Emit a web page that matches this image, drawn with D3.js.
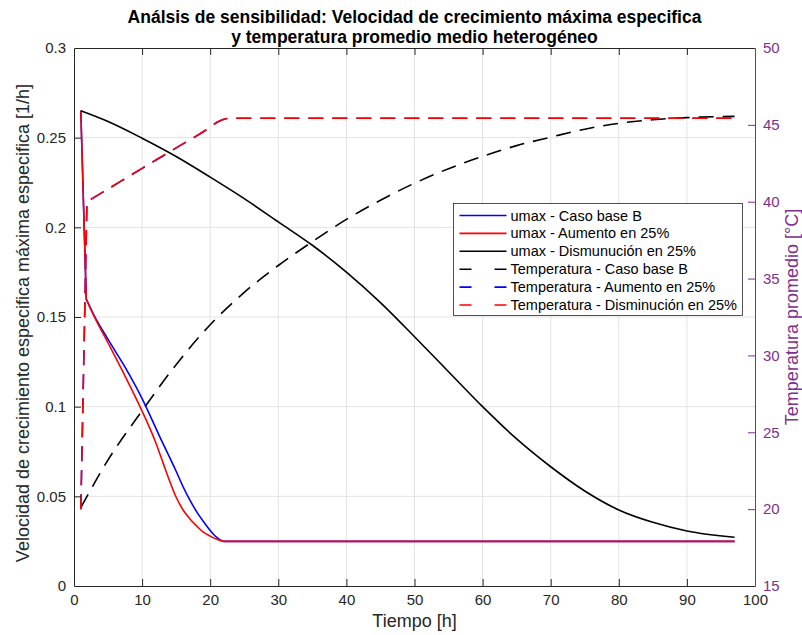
<!DOCTYPE html>
<html>
<head>
<meta charset="utf-8">
<script src="https://cdn.jsdelivr.net/npm/d3@7"></script>
<style>
  html, body { margin: 0; padding: 0; background: #ffffff; }
  svg { display: block; font-family: "Liberation Sans", Arial, Helvetica, sans-serif; }
</style>
</head>
<body>
<svg id="chart" width="802" height="635"></svg>
<script>
// ---- data ----
const titleLines = [
  "Análsis de sensibilidad: Velocidad de crecimiento máxima especifica",
  "y temperatura promedio medio heterogéneo"
];

// umax - Caso base B (left axis)
const tBase = [1, 1.8, 3, 5, 7.5, 10, 12.5, 15, 16, 17, 18, 19, 20, 21, 22, 30, 97];
const umaxBase = [0.265, 0.160, 0.1505, 0.1375, 0.122, 0.1045, 0.084, 0.064, 0.0555, 0.048, 0.0415, 0.036, 0.031, 0.027, 0.0249, 0.0249, 0.0249];

// umax - Aumento en 25% (left axis)
const tAumento = [1, 1.8, 3, 5, 7.5, 10, 12, 13, 14, 15, 16, 17, 18, 19, 20, 21, 22, 30, 97];
const umaxAumento = [0.265, 0.160, 0.150, 0.1355, 0.117, 0.0975, 0.080, 0.0695, 0.059, 0.0495, 0.0425, 0.0375, 0.0335, 0.030, 0.0278, 0.026, 0.0249, 0.0249, 0.0249];

// umax - Disminución en 25% (left axis)
const tDism = [1, 5, 10, 15, 20, 25, 30, 35, 40, 45, 50, 55, 60, 65, 70, 75, 80, 85, 90, 97];
const umaxDism = [0.265, 0.259, 0.2497, 0.2395, 0.228, 0.216, 0.203, 0.190, 0.175, 0.158, 0.139, 0.1195, 0.100, 0.082, 0.0665, 0.053, 0.0424, 0.0355, 0.0307, 0.0272];

// Temperatura - Caso base B (right axis)
const tempBase = [20.1, 23.2, 26.4, 29.4, 32.0, 34.1, 35.85, 37.4, 38.85, 40.1, 41.2, 42.15, 42.95, 43.65, 44.2, 44.72, 45.1, 45.33, 45.47, 45.55];

// Temperatura - Aumento / Disminución en 25% (right axis)
const tTemp = [1, 1.9, 5, 10, 15, 20, 21, 22, 23, 30, 97];
const tempAumento = [20, 40, 40.83, 42.17, 43.5, 44.85, 45.17, 45.37, 45.43, 45.43, 45.43];
const tempDism = [20, 40, 40.83, 42.17, 43.5, 44.85, 45.17, 45.37, 45.43, 45.43, 45.43];

const xTicks = [0, 10, 20, 30, 40, 50, 60, 70, 80, 90, 100];
const leftTicks = [0, 0.05, 0.1, 0.15, 0.2, 0.25, 0.3];
const leftTickLabels = ["0", "0.05", "0.1", "0.15", "0.2", "0.25", "0.3"];
const rightTicks = [15, 20, 25, 30, 35, 40, 45, 50];

const legendLabels = [
  "umax - Caso base B",
  "umax - Aumento en 25%",
  "umax - Dismunución en 25%",
  "Temperatura - Caso base B",
  "Temperatura - Aumento en 25%",
  "Temperatura - Disminución en 25%"
];

// ---- layout ----
const L = 74, R = 755, T = 48, B = 586;
const purple = "#7E2F8E";
const axisColor = "#262626";
const blue = "#0000ff", red = "#ff0000", black = "#000000";
const dash = "15,9";

const svg = d3.select("#chart");
const x = d3.scaleLinear().domain([0, 100]).range([L, R]);
const yL = d3.scaleLinear().domain([0, 0.3]).range([B, T]);
const yR = d3.scaleLinear().domain([15, 50]).range([B, T]);

// grid
const grid = svg.append("g").attr("stroke", "#e3e3e3").attr("stroke-width", 1);
grid.selectAll("line.gx").data(xTicks.slice(1, -1)).join("line")
  .attr("x1", d => x(d)).attr("x2", d => x(d)).attr("y1", T).attr("y2", B);
grid.selectAll("line.gy").data(leftTicks.slice(1, -1)).join("line")
  .attr("x1", L).attr("x2", R).attr("y1", d => yL(d)).attr("y2", d => yL(d));

// series: straight segments up to index `kink`, smooth monotone curve after it
const zip = (xs, ys) => xs.map((t, i) => [t, ys[i]]);
function seriesPath(pts, yScale, kink) {
  const lin = d3.line().x(d => x(d[0])).y(d => yScale(d[1]));
  const smooth = d3.line().x(d => x(d[0])).y(d => yScale(d[1])).curve(d3.curveMonotoneX);
  if (!kink) return smooth(pts);
  const head = lin(pts.slice(0, kink + 1));
  const tail = smooth(pts.slice(kink)).replace(/^M[^A-Za-z]*/, "");
  return head + tail;
}

const series = [
  { pts: zip(tBase, umaxBase), y: yL, kink: 1, color: blue, dash: null },
  { pts: zip(tAumento, umaxAumento), y: yL, kink: 1, color: red, dash: null },
  { pts: zip(tDism, umaxDism), y: yL, kink: 0, color: black, dash: null },
  { pts: zip(tDism, tempBase), y: yR, kink: 0, color: black, dash: dash },
  { pts: zip(tTemp, tempAumento), y: yR, kink: 1, color: blue, dash: dash },
  { pts: zip(tTemp, tempDism), y: yR, kink: 1, color: red, dash: dash }
];

const plot = svg.append("g");
series.forEach(s => {
  plot.append("path")
    .attr("d", seriesPath(s.pts, s.y, s.kink))
    .attr("fill", "none")
    .attr("stroke", s.color)
    .attr("stroke-width", 1.6)
    .attr("stroke-linejoin", "round")
    .attr("stroke-dasharray", s.dash);
});

// axes
const fontSize = 15;
const gx = svg.append("g").attr("transform", `translate(0,${B})`)
  .call(d3.axisBottom(x).tickValues(xTicks).tickSizeInner(-7).tickSizeOuter(0).tickPadding(8));
const gxTop = svg.append("g").attr("transform", `translate(0,${T})`)
  .call(d3.axisTop(x).tickValues(xTicks).tickSizeInner(-7).tickSizeOuter(0).tickFormat(""));
const gyL = svg.append("g").attr("transform", `translate(${L},0)`)
  .call(d3.axisLeft(yL).tickValues(leftTicks).tickSizeInner(-7).tickSizeOuter(0).tickPadding(8)
    .tickFormat((d, i) => leftTickLabels[i]));
const gyR = svg.append("g").attr("transform", `translate(${R},0)`)
  .call(d3.axisRight(yR).tickValues(rightTicks).tickSizeInner(-7).tickSizeOuter(0).tickPadding(8));

[gx, gxTop, gyL].forEach(g => {
  g.select(".domain").attr("stroke", axisColor).attr("stroke-width", 1);
  g.selectAll(".tick line").attr("stroke", axisColor);
  g.selectAll("text").attr("fill", axisColor).attr("font-size", fontSize)
    .attr("font-family", "Liberation Sans, Arial, sans-serif");
});
gyR.select(".domain").attr("stroke", purple).attr("stroke-width", 1);
gyR.selectAll(".tick line").attr("stroke", purple);
gyR.selectAll("text").attr("fill", purple).attr("font-size", fontSize)
  .attr("font-family", "Liberation Sans, Arial, sans-serif");
// the box edges already mark the end ticks
gx.selectAll(".tick").filter(d => d === 0 || d === 100).select("line").remove();
gxTop.selectAll(".tick").filter(d => d === 0 || d === 100).select("line").remove();
gyL.selectAll(".tick").filter(d => d === 0 || d === 0.3).select("line").remove();
gyR.selectAll(".tick").filter(d => d === 15 || d === 50).select("line").remove();

// axis titles
const labelSize = 18;
svg.append("text")
  .attr("x", (L + R) / 2).attr("y", 627)
  .attr("text-anchor", "middle").attr("font-size", labelSize).attr("fill", axisColor)
  .text("Tiempo [h]");
svg.append("text")
  .attr("transform", `translate(29,${(T + B) / 2 + 6}) rotate(-90)`)
  .attr("text-anchor", "middle").attr("font-size", labelSize).attr("fill", axisColor)
  .text("Velocidad de crecimiento especifica máxima especifica [1/h]");
svg.append("text")
  .attr("transform", `translate(798,${(T + B) / 2}) rotate(-90)`)
  .attr("text-anchor", "middle").attr("font-size", labelSize).attr("fill", purple)
  .text("Temperatura promedio [°C]");

// title
titleLines.forEach((s, i) => {
  svg.append("text")
    .attr("x", (L + R) / 2).attr("y", 23 + i * 20)
    .attr("text-anchor", "middle").attr("font-size", 17.5).attr("font-weight", "bold")
    .attr("fill", "#000").text(s);
});

// legend
const lg = svg.append("g").attr("transform", "translate(453.5,203.5)");
lg.append("rect").attr("width", 289).attr("height", 112)
  .attr("fill", "#ffffff").attr("stroke", axisColor).attr("stroke-width", 0.8);
series.forEach((s, i) => {
  const yy = 12 + i * 17.9;
  lg.append("line").attr("x1", 6).attr("x2", 53).attr("y1", yy).attr("y2", yy)
    .attr("stroke", s.color).attr("stroke-width", 1.6)
    .attr("stroke-dasharray", s.dash ? "12,23" : null);
  lg.append("text").attr("x", 57).attr("y", yy + 5).attr("font-size", 14.5)
    .attr("fill", "#000").text(legendLabels[i]);
});
</script>
</body>
</html>
